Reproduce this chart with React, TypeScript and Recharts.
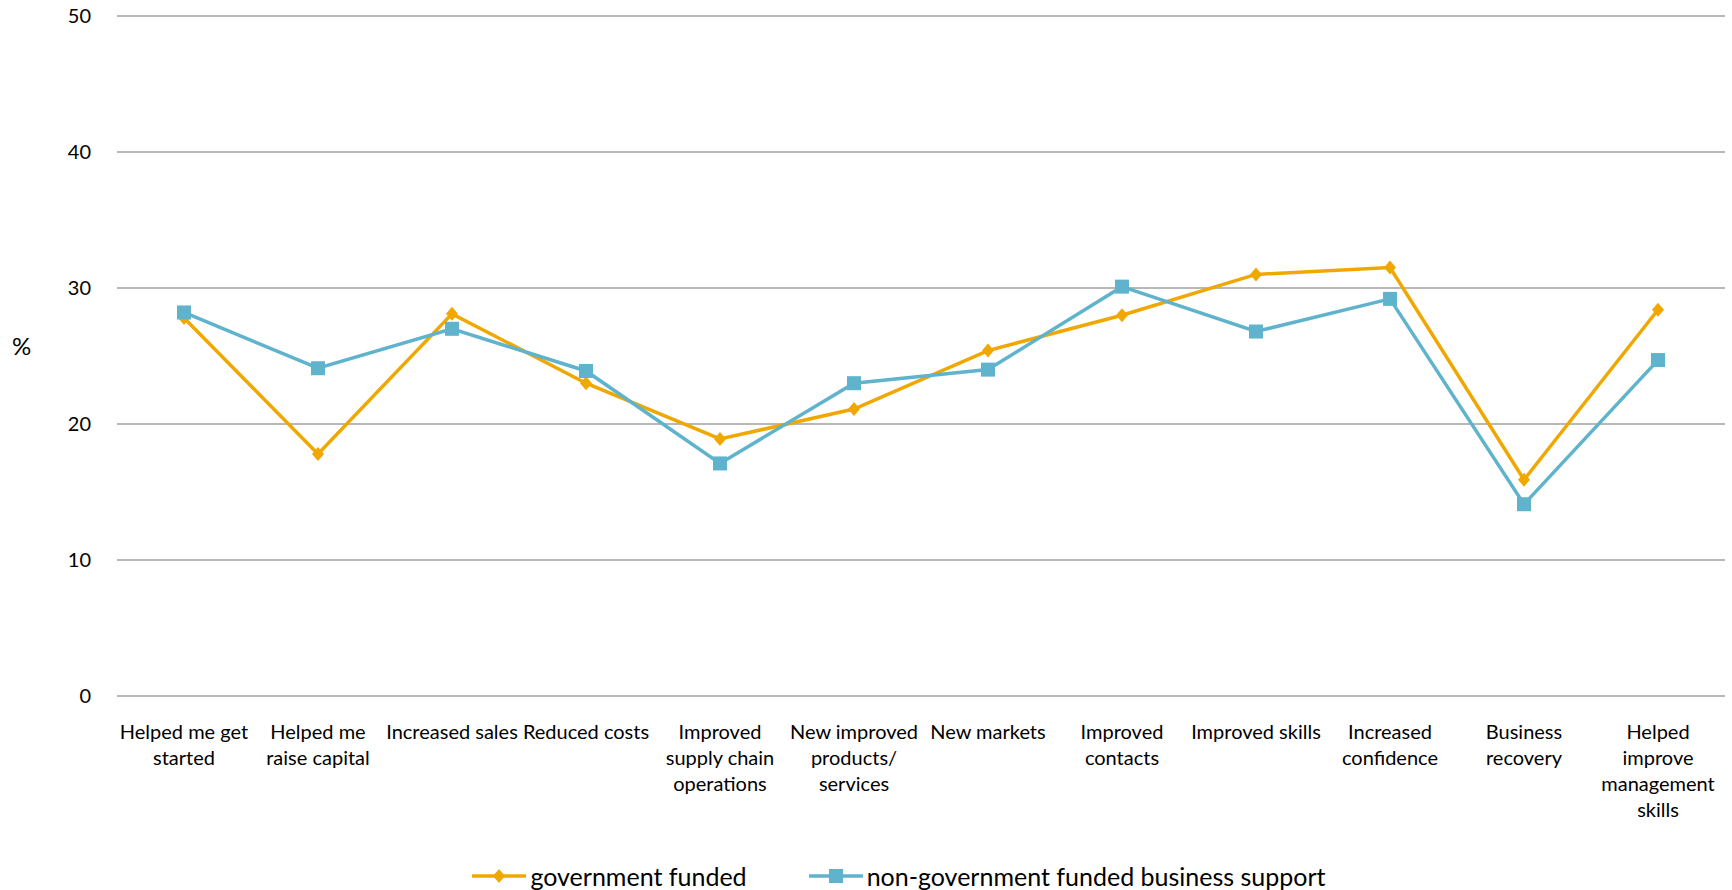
import { LineChart, Line, XAxis, YAxis, CartesianGrid, Legend } from "recharts";

const categories = [
  "Helped me get\nstarted",
  "Helped me\nraise capital",
  "Increased sales",
  "Reduced costs",
  "Improved\nsupply chain\noperations",
  "New improved\nproducts/\nservices",
  "New markets",
  "Improved\ncontacts",
  "Improved skills",
  "Increased\nconfidence",
  "Business\nrecovery",
  "Helped\nimprove\nmanagement\nskills",
];

const governmentFunded = [27.8, 17.8, 28.1, 23.0, 18.9, 21.1, 25.4, 28.0, 31.0, 31.5, 15.9, 28.4];
const nonGovernmentFunded = [28.2, 24.1, 27.0, 23.9, 17.1, 23.0, 24.0, 30.1, 26.8, 29.2, 14.1, 24.7];

const yTicks = [0, 10, 20, 30, 40, 50];

const GOV = "#F0A800";
const NONGOV = "#5FB3CC";
const FONT = "Lato, 'Open Sans', sans-serif";

const chartData = categories.map((category, i) => ({
  category,
  gov: governmentFunded[i],
  nongov: nonGovernmentFunded[i],
}));

const Diamond = (props: any) => {
  const { cx, cy } = props;
  if (cx == null || cy == null) return null;
  return (
    <polygon
      points={`${cx},${cy - 7} ${cx + 6},${cy} ${cx},${cy + 7} ${cx - 6},${cy}`}
      fill={GOV}
    />
  );
};

const Square = (props: any) => {
  const { cx, cy } = props;
  if (cx == null || cy == null) return null;
  return <rect x={cx - 7} y={cy - 7} width={14} height={14} fill={NONGOV} />;
};

const CategoryTick = (props: any) => {
  const { x, y, payload } = props;
  const lines = String(payload.value).split("\n");
  return (
    <text x={x} y={y} textAnchor="middle" fill="#000" fontFamily={FONT} fontSize={20}>
      {lines.map((line, i) => (
        <tspan key={i} x={x} dy={i === 0 ? 43 : 26}>
          {line}
        </tspan>
      ))}
    </text>
  );
};

const legendItems = [
  { label: "government funded", color: GOV, marker: "diamond" },
  { label: "non-government funded business support", color: NONGOV, marker: "square" },
];

const renderLegend = () => (
  <div
    style={{
      display: "flex",
      justifyContent: "center",
      alignItems: "center",
      height: 28,
      paddingLeft: 66,
      fontFamily: FONT,
      fontSize: 25,
      color: "#000",
    }}
  >
    {legendItems.map((item, i) => (
      <div key={i} style={{ display: "flex", alignItems: "center", marginRight: i === 0 ? 62 : 0 }}>
        <svg width={54} height={20} style={{ marginRight: 4 }}>
          <line x1={0} y1={10} x2={54} y2={10} stroke={item.color} strokeWidth={3.5} />
          {item.marker === "diamond" ? (
            <polygon points="27,3 33,10 27,17 21,10" fill={item.color} />
          ) : (
            <rect x={20} y={3} width={14} height={14} fill={item.color} />
          )}
        </svg>
        <span style={{ lineHeight: "28px" }}>{item.label}</span>
      </div>
    ))}
  </div>
);

export default function App() {
  return (
    <div style={{ position: "absolute", left: 0, top: 0, background: "#fff" }}>
      <LineChart width={1732} height={890} data={chartData} margin={{ top: 16, right: 7, bottom: 0, left: 0 }}>
        <CartesianGrid horizontal vertical={false} stroke="#a0a0a0" strokeWidth={1.3} />
        <XAxis
          dataKey="category"
          interval={0}
          tick={<CategoryTick />}
          tickLine={false}
          axisLine={false}
          tickSize={0}
          tickMargin={0}
          height={166}
          padding={{ left: 67, right: 67 }}
        />
        <YAxis
          domain={[0, 50]}
          ticks={yTicks}
          width={117}
          tickLine={false}
          axisLine={false}
          tickSize={0}
          tickMargin={26}
          tick={{ fill: "#000", fontSize: 20, fontFamily: FONT }}
          label={{ value: "%", position: "insideLeft", offset: 12, dy: -10, fill: "#000", fontSize: 24, fontFamily: FONT }}
        />
        <Legend verticalAlign="bottom" content={renderLegend} wrapperStyle={{ left: 0, width: 1732, bottom: 0 }} />
        <Line
          type="linear"
          dataKey="gov"
          name="government funded"
          stroke={GOV}
          strokeWidth={3.5}
          dot={<Diamond />}
          activeDot={false}
          isAnimationActive={false}
        />
        <Line
          type="linear"
          dataKey="nongov"
          name="non-government funded business support"
          stroke={NONGOV}
          strokeWidth={3.5}
          dot={<Square />}
          activeDot={false}
          isAnimationActive={false}
        />
      </LineChart>
    </div>
  );
}
